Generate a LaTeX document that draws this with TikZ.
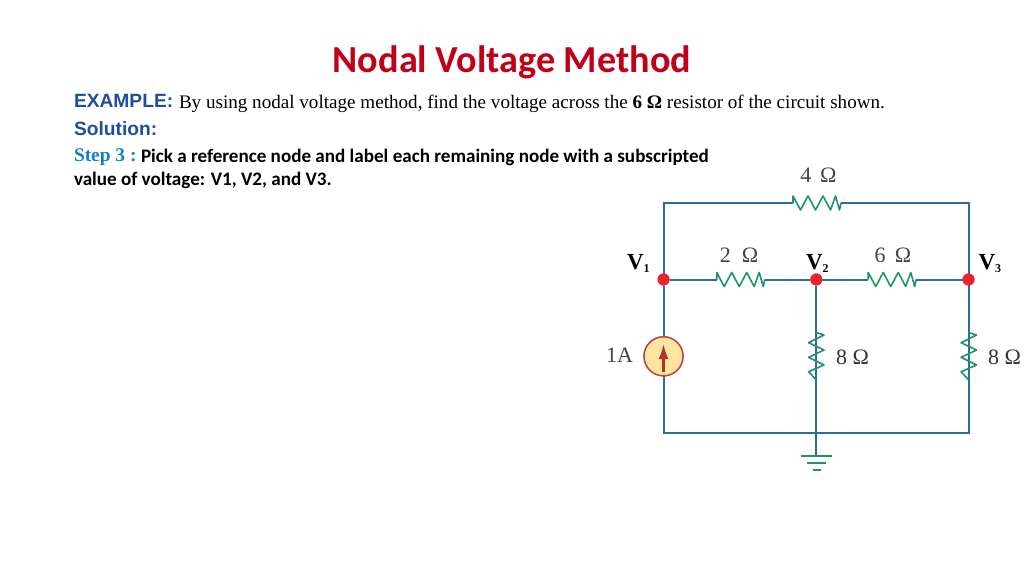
\documentclass[tikz,border=0pt]{standalone}
\usepackage{fontspec}
\setmainfont{Liberation Serif}
\newfontfamily\carl{Carlito}
\newfontfamily\arl{Liberation Sans}
\usetikzlibrary{arrows.meta}
\definecolor{wirec}{HTML}{2F6C9E}
\definecolor{resc}{HTML}{1F9468}
\definecolor{titlec}{HTML}{C00018}
\definecolor{headc}{HTML}{1F4E9C}
\definecolor{stepc}{HTML}{1480C4}
\definecolor{dotc}{HTML}{E8262C}
\definecolor{srcb}{HTML}{C8403C}
\definecolor{srcf}{HTML}{FCE5A0}
\definecolor{arrc}{HTML}{B8302C}
\definecolor{valc}{HTML}{444444}
\tikzset{
  txt/.style={inner sep=0pt,outer sep=0pt,anchor=base west},
  wire/.style={draw=wirec,line width=2pt,line join=miter},
  res/.style={draw=resc,line width=1.6pt,line join=round},
  dot/.style={circle,fill=dotc,minimum size=12pt,inner sep=0pt,outer sep=0pt},
  val/.style={inner sep=0pt,outer sep=0pt,anchor=base,text=valc,font=\fontsize{22}{24}\selectfont},
  vlab/.style={inner sep=0pt,outer sep=0pt,anchor=base west,font=\fontsize{23}{25}\selectfont\bfseries},
  src/.style={circle,draw=srcb,fill=srcf,line width=1.4pt,minimum size=39pt,inner sep=0pt,outer sep=0pt},
  gnd/.style={draw=resc,line width=1.5pt},
  hres/.pic={\draw[res] (-23.5,0) -- (-23.5,-7) -- (-16,7) -- (-8.5,-7) -- (-1,7) -- (6.5,-7) -- (14,7) -- (19,-7) -- (23,7) -- (24.5,0);},
  vres/.pic={\draw[res] (0,-23.6) -- (7.7,-21.3) -- (-7.7,-13.6) -- (7.7,-6.3) -- (-7.7,1) -- (7.7,8.7) -- (-7.7,15.4) -- (0,23.7);}
}
\begin{document}
\begin{tikzpicture}[x=1pt,y=-1pt]
\useasboundingbox (0,0) rectangle (1024,576);
% texts
\node[txt,text=titlec,font=\carl\bfseries\fontsize{38.2}{42}\selectfont] (title) at (332.8,72.3) {Nodal Voltage Method};
\node[txt,text=headc,font=\arl\bfseries\fontsize{19.2}{22}\selectfont] (ex) at (74,107.7) {EXAMPLE:};
\node[txt,font=\fontsize{19.1}{22}\selectfont] (extxt) at (179,108.2) {By using nodal voltage method, find the voltage across the \textbf{6 Ω} resistor of the circuit shown.};
\node[txt,text=headc,font=\arl\bfseries\fontsize{19.2}{22}\selectfont] (sol) at (74,135.7) {Solution:};
\node[txt,text=stepc,font=\bfseries\fontsize{19.4}{22}\selectfont] (step) at (74,161.7) {Step 3 :};
\node[txt,font=\carl\bfseries\fontsize{19.1}{22}\selectfont] (steptxt) at (141,162.2) {Pick a reference node and label each remaining node with a subscripted};
\node[txt,font=\carl\bfseries\fontsize{19.1}{22}\selectfont] (steptxt2) at (74,185.7) {value of voltage: V1, V2, and V3.};
% junctions and corners
\coordinate (tl) at (663.5,203);
\coordinate (tr) at (968.8,203);
\coordinate (bl) at (663.5,433);
\coordinate (br) at (968.8,433);
\coordinate (bm) at (816.3,433);
\coordinate (gt) at (816.3,456);
\node[dot] (v1) at (663.5,279.5) {};
\node[dot] (v2) at (816.3,279.5) {};
\node[dot] (v3) at (968.5,279.5) {};
\node[src] (s) at (663.5,356.3) {};
% resistor centres
\coordinate (r4) at (816.5,203);
\coordinate (r2) at (740.2,279.5);
\coordinate (r6) at (891.7,279.5);
\coordinate (r8a) at (816.3,356.3);
\coordinate (r8b) at (968.8,356.3);
% wires
\draw[wire] (v1) -- (tl) -- ([xshift=-23.5pt]r4);
\draw[wire] ([xshift=24.5pt]r4) -- (tr) -- (br) -- (bm) -- (bl) -- (s);
\draw[wire] (s) -- (v1);
\draw[wire] (v1) -- ([xshift=-23.5pt]r2);
\draw[wire] ([xshift=24.5pt]r2) -- (v2);
\draw[wire] (v2) -- ([xshift=-23.5pt]r6);
\draw[wire] ([xshift=24.5pt]r6) -- (v3);
\draw[wire] (v2) -- ([yshift=-23.5pt]r8a);
\draw[wire] ([yshift=23.5pt]r8a) -- (bm) -- (gt);
% resistors
\pic at (r4) {hres};
\pic at (r2) {hres};
\pic at (r6) {hres};
\pic at (r8a) {vres};
\pic at (r8b) {vres};
% redraw nodes on top
\node[dot] at (v1) {};
\node[dot] at (v2) {};
\node[dot] at (v3) {};
\node[src] at (s) {};
\draw[arrc,line width=2.2pt,-{Latex[length=15pt,width=10pt]}] (663.5,371.7) -- (663.5,344);
% ground
\draw[gnd] (800.7,456) -- (832.3,456);
\draw[gnd] (806.7,463) -- (826,463);
\draw[gnd,line width=2.2pt] (812.7,470) -- (820.7,470);
% labels
\node[val] (l4) at (818.5,182) {4\hspace{0.4em}Ω};
\node[val] (l2) at (739,262) {2\hspace{0.5em}Ω};
\node[val] (l6) at (893,262.5) {6\hspace{0.42em}Ω};
\node[vlab] (lv1) at (627,269) {V\raisebox{-3pt}{\fontsize{12}{13}\selectfont 1}};
\node[vlab] (lv2) at (806,269.5) {V\raisebox{-3pt}{\fontsize{12}{13}\selectfont 2}};
\node[vlab] (lv3) at (978.5,269.5) {V\raisebox{-3pt}{\fontsize{12}{13}\selectfont 3}};
\node[inner sep=0pt,anchor=base west,font=\fontsize{22}{24}\selectfont,text=valc] (l1a) at (606,362) {1A};
\node[inner sep=0pt,anchor=base west,font=\fontsize{22}{24}\selectfont,text=black!80] (l8a) at (836,364) {8 Ω};
\node[inner sep=0pt,anchor=base west,font=\fontsize{22}{24}\selectfont,text=black!80] (l8b) at (988,364) {8 Ω};
\end{tikzpicture}
\end{document}
